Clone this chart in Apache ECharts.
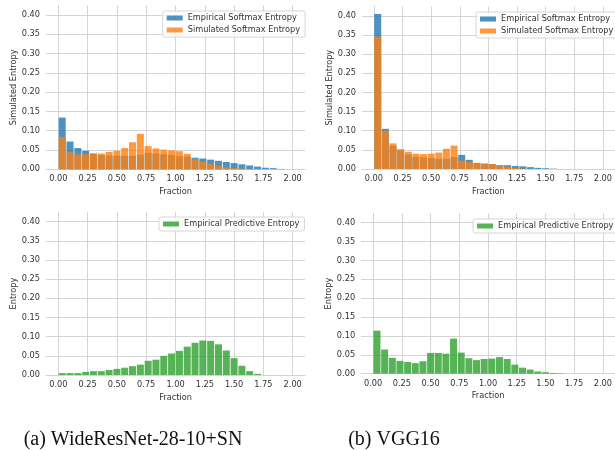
<!DOCTYPE html>
<html>
<head>
<meta charset="utf-8">
<script src="https://cdn.jsdelivr.net/npm/echarts@6/dist/echarts.min.js"></script>
<style>html,body{margin:0;padding:0;background:#fff}#c{width:615px;height:450px}</style>
</head>
<body>
<div id="c"></div>
<script>
// Histogram bin centres (30 bins on [0, 2])
const binCenters = [0.0333,0.1,0.1667,0.2333,0.3,0.3667,0.4333,0.5,0.5667,0.6333,0.7,0.7667,0.8333,0.9,0.9667,1.0333,1.1,1.1667,1.2333,1.3,1.3667,1.4333,1.5,1.5667,1.6333,1.7,1.7667,1.8333,1.9,1.9667];
const xTicks = [0,0.25,0.5,0.75,1,1.25,1.5,1.75,2];
const yTicks = [0,0.05,0.1,0.15,0.2,0.25,0.3,0.35,0.4];

// (a) WideResNet-28-10+SN
const wrnEmpiricalSoftmax = [0.134,0.072,0.055,0.048,0.041,0.037,0.036,0.035,0.035,0.035,0.038,0.043,0.041,0.039,0.037,0.034,0.033,0.030,0.028,0.025,0.022,0.019,0.016,0.013,0.010,0.007,0.004,0.003,0.001,0];
const wrnSimulatedSoftmax = [0.084,0.044,0.039,0.039,0.040,0.041,0.045,0.048,0.055,0.070,0.092,0.060,0.054,0.051,0.049,0.047,0.040,0.026,0.020,0.015,0.009,0.005,0.003,0.002,0.001,0,0,0,0,0];
const wrnPredictive = [0.005,0.005,0.005,0.008,0.010,0.010,0.013,0.016,0.019,0.023,0.027,0.037,0.040,0.050,0.056,0.063,0.074,0.084,0.090,0.089,0.080,0.064,0.044,0.024,0.010,0.003,0,0,0,0];

// (b) VGG16
const vggEmpiricalSoftmax = [0.405,0.105,0.061,0.048,0.038,0.032,0.030,0.029,0.027,0.027,0.031,0.037,0.024,0.016,0.014,0.013,0.010,0.010,0.008,0.007,0.005,0.003,0.002,0.001,0,0,0,0,0,0];
const vggSimulatedSoftmax = [0.346,0.100,0.067,0.052,0.045,0.040,0.039,0.040,0.043,0.053,0.061,0.022,0.018,0.016,0.014,0.013,0.010,0.006,0.003,0.001,0,0,0,0,0,0,0,0,0,0];
const vggPredictive = [0.114,0.064,0.042,0.034,0.031,0.028,0.033,0.055,0.055,0.053,0.093,0.056,0.041,0.036,0.039,0.040,0.044,0.039,0.024,0.016,0.011,0.006,0.004,0.002,0.001,0,0,0,0,0];

const names = {
  emp: 'Empirical Softmax Entropy',
  sim: 'Simulated Softmax Entropy',
  pred: 'Empirical Predictive Entropy'
};
const colors = {
  emp: 'rgba(31,119,180,0.8)',
  sim: 'rgba(255,127,14,0.8)',
  pred: 'rgba(44,160,44,0.8)'
};

const FONT = 'DejaVu Sans';
const FS = 8.2;
const TXT = '#333333';
const GRIDC = '#d4d4d4';

const grids = [
  {left:46, top:5.3, width:259, height:164},
  {left:361.9, top:6.4, width:255.2, height:162.6},
  {left:46, top:212.1, width:259, height:162.9},
  {left:361.1, top:213.3, width:256.1, height:160.4}
];
const yNames = ['Simulated Entropy','Simulated Entropy','Entropy','Entropy'];

const fmt = v => v.toFixed(2);

const xAxes = grids.map((g,i) => ({
  type:'value', gridIndex:i, min:-0.105, max:2.105,
  name:'Fraction', nameLocation:'middle', nameGap:18.5,
  nameTextStyle:{fontFamily:FONT, fontSize:FS, color:TXT},
  axisLine:{show:true, lineStyle:{color:GRIDC, width:1}},
  axisTick:{show:false, customValues:xTicks},
  axisLabel:{customValues:xTicks, formatter:fmt, fontFamily:FONT, fontSize:FS, color:TXT, margin:6},
  splitLine:{show:true, lineStyle:{color:GRIDC, width:1}}
}));
const yAxes = grids.map((g,i) => ({
  type:'value', gridIndex:i, min:0, max:0.425,
  name:yNames[i], nameLocation:'middle', nameGap:28, nameRotate:90,
  nameTextStyle:{fontFamily:FONT, fontSize:FS, color:TXT},
  axisLine:{show:true, lineStyle:{color:GRIDC, width:1}},
  axisTick:{show:false, customValues:yTicks},
  axisLabel:{customValues:yTicks, formatter:fmt, fontFamily:FONT, fontSize:FS, color:TXT, margin:6},
  splitLine:{show:true, lineStyle:{color:GRIDC, width:1}}
}));

function pairs(vals){ return binCenters.map((c,i)=>[c, vals[i]]); }
function bar(name, color, vals, idx){
  return {
    type:'bar', name:name, xAxisIndex:idx, yAxisIndex:idx,
    data:pairs(vals), barWidth:7, barGap:'-100%',
    itemStyle:{color:color}, animation:false, silent:true
  };
}

const series = [
  bar(names.emp, colors.emp, wrnEmpiricalSoftmax, 0),
  bar(names.sim, colors.sim, wrnSimulatedSoftmax, 0),
  bar(names.emp, colors.emp, vggEmpiricalSoftmax, 1),
  bar(names.sim, colors.sim, vggSimulatedSoftmax, 1),
  bar(names.pred, colors.pred, wrnPredictive, 2),
  bar(names.pred, colors.pred, vggPredictive, 3)
];

function legend(left, top, data){
  return {
    left:left, top:top, orient:'vertical', data:data,
    icon:'rect', itemWidth:16, itemHeight:5, itemGap:2,
    padding:[2,5,2,4],
    backgroundColor:'rgba(255,255,255,0.85)', borderColor:'#d6d6d6', borderWidth:1, borderRadius:2,
    textStyle:{fontFamily:FONT, fontSize:FS, color:TXT, lineHeight:10},
    selectedMode:false
  };
}

const chart = echarts.init(document.getElementById('c'), null, {renderer:'canvas'});
chart.setOption({
  backgroundColor:'#ffffff',
  animation:false,
  grid:grids,
  xAxis:xAxes,
  yAxis:yAxes,
  legend:[
    legend(162.7, 11, [names.emp, names.sim]),
    legend(476, 12, [names.emp, names.sim]),
    legend(159, 217, [names.pred]),
    legend(473, 219, [names.pred])
  ],
  series:series,
  graphic:[
    {type:'text', x:133, y:440, style:{text:'(a) WideResNet-28-10+SN', fontFamily:'Liberation Serif', fontSize:20, fill:'#111', textAlign:'center', textVerticalAlign:'middle'}},
    {type:'text', x:394, y:440, style:{text:'(b) VGG16', fontFamily:'Liberation Serif', fontSize:20, fill:'#111', textAlign:'center', textVerticalAlign:'middle'}}
  ]
});
</script>
</body>
</html>
